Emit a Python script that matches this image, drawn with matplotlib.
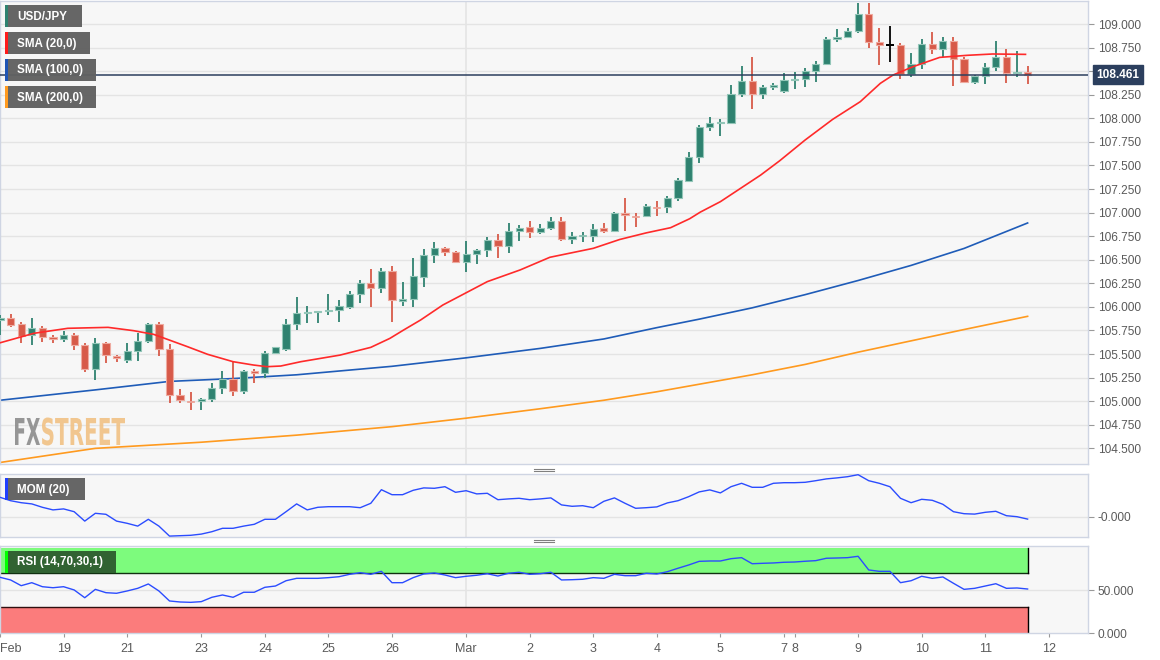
import numpy as np
import matplotlib
matplotlib.use("Agg")
import matplotlib.pyplot as plt
from matplotlib.patches import Rectangle, PathPatch
from matplotlib.lines import Line2D
from matplotlib.textpath import TextPath
from matplotlib.font_manager import FontProperties
from matplotlib.transforms import Affine2D

plt.rcParams['font.family'] = ['Liberation Sans', 'DejaVu Sans']

# ---------------- data (4H USD/JPY candles) ----------------
opens = [105.86, 105.88, 105.82, 105.70, 105.78, 105.68, 105.66, 105.70, 105.60, 105.34,
         105.62, 105.48, 105.44, 105.53, 105.64, 105.815, 105.55, 105.07, 105.013, 105.006,
         105.02, 105.14, 105.24, 105.11, 105.325, 105.295, 105.51, 105.55, 105.82, 105.935,
         105.942, 105.953, 105.963, 106.00, 106.14, 106.25, 106.20, 106.385, 106.066, 106.08,
         106.32, 106.55, 106.62, 106.58, 106.48, 106.56, 106.60, 106.71, 106.65, 106.805,
         106.845, 106.795, 106.84, 106.915, 106.72, 106.752, 106.75, 106.833, 106.81, 106.999,
         106.975, 106.965, 107.07, 107.056, 107.158, 107.335, 107.593, 107.911, 107.946, 107.954,
         108.26, 108.399, 108.26, 108.335, 108.29, 108.402, 108.417, 108.502, 108.572, 108.841,
         108.866, 108.926, 109.103, 108.806, 108.777, 108.777, 108.470, 108.576, 108.788, 108.731,
         108.820, 108.625, 108.388, 108.449, 108.541, 108.654, 108.477, 108.494]
highs = [105.91, 105.93, 105.84, 105.88, 105.80, 105.70, 105.74, 105.72, 105.62, 105.67,
         105.63, 105.49, 105.62, 105.72, 105.83, 105.84, 105.61, 105.13, 105.10, 105.03,
         105.19, 105.32, 105.42, 105.33, 105.34, 105.53, 105.58, 105.87, 106.10, 106.01,
         105.956, 106.14, 106.07, 106.17, 106.28, 106.40, 106.41, 106.43, 106.26, 106.515,
         106.61, 106.69, 106.63, 106.59, 106.70, 106.61, 106.74, 106.77, 106.89, 106.87,
         106.915, 106.88, 106.95, 106.95, 106.79, 106.79, 106.88, 106.89, 107.01, 107.15,
         107.00, 107.09, 107.12, 107.176, 107.37, 107.646, 107.929, 108.01, 107.989, 108.353,
         108.555, 108.647, 108.35, 108.378, 108.477, 108.494, 108.53, 108.611, 108.866, 108.943,
         108.954, 109.226, 109.226, 108.954, 108.979, 108.802, 108.689, 108.837, 108.919, 108.859,
         108.859, 108.650, 108.459, 108.583, 108.820, 108.731, 108.714, 108.555]
lows = [105.70, 105.79, 105.62, 105.60, 105.63, 105.62, 105.63, 105.54, 105.31, 105.23,
        105.40, 105.42, 105.40, 105.43, 105.62, 105.48, 104.98, 104.98, 104.91, 104.91,
        104.995, 105.08, 105.055, 105.08, 105.19, 105.25, 105.50, 105.53, 105.76, 105.83,
        105.83, 105.91, 105.84, 105.98, 106.04, 106.00, 106.15, 105.84, 106.01, 106.00,
        106.21, 106.47, 106.54, 106.47, 106.37, 106.46, 106.53, 106.515, 106.57, 106.70,
        106.73, 106.77, 106.82, 106.70, 106.67, 106.685, 106.69, 106.78, 106.80, 106.80,
        106.845, 106.95, 106.965, 107.00, 107.126, 107.328, 107.529, 107.869, 107.812, 107.946,
        108.229, 108.095, 108.20, 108.30, 108.272, 108.307, 108.328, 108.388, 108.565, 108.813,
        108.859, 108.901, 108.742, 108.565, 108.601, 108.413, 108.434, 108.519, 108.682, 108.647,
        108.343, 108.377, 108.364, 108.364, 108.505, 108.378, 108.441, 108.364]
closes = [105.88, 105.81, 105.69, 105.78, 105.68, 105.66, 105.70, 105.60, 105.34, 105.62,
          105.49, 105.46, 105.53, 105.64, 105.82, 105.55, 105.07, 105.01, 105.006, 105.023,
          105.14, 105.24, 105.11, 105.32, 105.295, 105.51, 105.57, 105.82, 105.94, 105.95,
          105.956, 105.967, 106.01, 106.14, 106.25, 106.20, 106.385, 106.07, 106.08, 106.325,
          106.55, 106.62, 106.58, 106.48, 106.56, 106.60, 106.71, 106.65, 106.805, 106.84,
          106.795, 106.84, 106.915, 106.72, 106.75, 106.763, 106.83, 106.81, 106.995, 106.975,
          106.964, 107.07, 107.058, 107.158, 107.345, 107.593, 107.911, 107.946, 107.964, 108.26,
          108.399, 108.26, 108.335, 108.349, 108.406, 108.416, 108.502, 108.572, 108.841, 108.866,
          108.926, 109.103, 108.806, 108.777, 108.777, 108.470, 108.576, 108.784, 108.731, 108.820,
          108.625, 108.388, 108.449, 108.541, 108.654, 108.477, 108.494, 108.461]

# SMA readings (candle index position, value)
sma20_idx = [-0.94, 2.2, 5.4, 9.2, 11.6, 13.5, 14.8, 16.7, 18.6, 21.0, 22.9, 24.2, 25.5,
             27.4, 28.3, 31.1, 34.0, 35.8, 37.1, 38.7, 40.8, 45.0, 48.1, 50.9, 55.0, 57.5,
             60.0, 62.3, 64.1, 65.1, 67.0, 68.9, 70.8, 72.6, 75.0, 77.6, 80.2, 82.1, 83.3,
             85.2, 87.7, 90.3, 92.7, 95.8]
sma20_val = [105.621, 105.720, 105.773, 105.783, 105.748, 105.709, 105.656, 105.578, 105.497,
             105.419, 105.384, 105.366, 105.373, 105.419, 105.436, 105.489, 105.571, 105.666,
             105.755, 105.861, 106.020, 106.268, 106.392, 106.526, 106.621, 106.715, 106.785,
             106.840, 106.935, 107.005, 107.116, 107.257, 107.398, 107.550, 107.770, 107.989,
             108.176, 108.371, 108.459, 108.548, 108.646, 108.668, 108.682, 108.678]
sma100_idx = [-1, 8, 15, 21, 27, 36, 43, 50, 56, 61, 65, 70, 75, 80, 85, 90, 96]
sma100_val = [105.01, 105.12, 105.21, 105.24, 105.28, 105.37, 105.46, 105.56, 105.66, 105.78,
              105.87, 105.99, 106.13, 106.28, 106.44, 106.62, 106.89]
sma200_idx = [-1, 8, 18, 27, 36, 43, 50, 56, 61, 65, 70, 75, 80, 85, 90, 96]
sma200_val = [104.35, 104.50, 104.565, 104.64, 104.73, 104.82, 104.92, 105.01, 105.10, 105.18,
              105.28, 105.39, 105.52, 105.64, 105.76, 105.90]

mom = [0.97, 0.80, 0.70, 0.64, 0.47, 0.34, 0.39, 0.25, -0.22, 0.17,
       0.12, -0.22, -0.33, -0.47, -0.13, -0.47, -0.97, -0.95, -0.93, -0.87,
       -0.75, -0.58, -0.58, -0.47, -0.38, -0.13, -0.13, 0.25, 0.64, 0.34,
       0.47, 0.50, 0.50, 0.50, 0.45, 0.67, 1.35, 1.10, 1.10, 1.32,
       1.44, 1.42, 1.50, 1.22, 1.30, 1.14, 1.17, 0.85, 0.89, 0.92,
       0.85, 0.89, 0.94, 0.59, 0.52, 0.55, 0.45, 0.77, 0.94, 0.67,
       0.42, 0.45, 0.49, 0.69, 0.80, 1.00, 1.24, 1.34, 1.19, 1.50,
       1.67, 1.47, 1.47, 1.67, 1.70, 1.70, 1.72, 1.80, 1.89, 1.94,
       2.00, 2.10, 1.80, 1.67, 1.50, 0.92, 0.70, 0.87, 0.82, 0.62,
       0.25, 0.15, 0.13, 0.22, 0.27, 0.05, 0.00, -0.12]
rsi = [65.2, 62.1, 55.4, 58.9, 54.2, 53.0, 54.2, 50.4, 41.3, 51.1,
       47.2, 46.5, 49.2, 52.3, 57.4, 49.2, 37.5, 36.3, 35.9, 36.7,
       41.8, 44.5, 41.8, 47.7, 47.7, 53.5, 55.0, 61.2, 64.0, 64.0,
       64.0, 64.8, 65.9, 68.7, 70.6, 68.7, 72.2, 58.9, 58.9, 64.8,
       69.1, 70.3, 67.9, 64.8, 66.4, 67.6, 69.4, 66.7, 69.9, 71.1,
       68.7, 69.4, 71.1, 62.1, 62.4, 62.9, 64.8, 64.0, 68.7, 67.1,
       67.1, 69.9, 69.1, 71.8, 75.8, 79.6, 83.9, 84.3, 84.3, 87.0,
       88.2, 81.1, 81.6, 82.0, 82.8, 83.1, 84.0, 84.7, 87.5, 87.8,
       88.2, 89.8, 73.8, 72.2, 72.2, 58.9, 61.2, 66.4, 64.0, 65.6,
       58.2, 51.1, 52.3, 55.0, 57.7, 52.3, 52.7, 51.5]

last_price = 108.461
xtick_pos = [-1, 5, 11, 18, 24, 30, 36, 43, 49, 55, 61, 67, 73, 74, 80, 86, 92, 98]
xtick_lab = ['Feb', '19', '21', '23', '24', '25', '26', 'Mar', '2', '3', '4', '5',
             '7', '8', '9', '10', '11', '12']
price_ticks = [104.5, 104.75, 105.0, 105.25, 105.5, 105.75, 106.0, 106.25, 106.5,
               106.75, 107.0, 107.25, 107.5, 107.75, 108.0, 108.25, 108.5, 108.75, 109.0]

# ---------------- figure ----------------
W, H = 1160, 660
fig = plt.figure(figsize=(W / 100, H / 100), dpi=100)
fig.patch.set_facecolor('white')

def rect(x0, y0, x1, y1):
    return [x0 / W, 1 - y1 / H, (x1 - x0) / W, (y1 - y0) / H]

ax = fig.add_axes(rect(0, 1, 1088, 464))
axm = fig.add_axes(rect(0, 473.7, 1088, 537), sharex=ax)
axr = fig.add_axes(rect(0, 546.3, 1088, 633), sharex=ax)

GREEN = '#2f8270'
RED = '#d75a49'
GREEN_E = '#93c6b8'
RED_E = '#eeaa9f'
GRID = '#e4e4e4'
SPINE = '#cfd5e3'
TXT = '#5a5a5a'

xs = np.arange(-1, -1 + len(closes))
xmin, xmax = -0.943, 101.7

for a in (ax, axm, axr):
    a.set_facecolor('#f7f7f7')
    for s in a.spines.values():
        s.set_color(SPINE)
        s.set_linewidth(1)
    a.yaxis.tick_right()
    a.tick_params(axis='y', colors='#999999', labelcolor=TXT, labelsize=8.6,
                  length=4, width=0.8, pad=3)
    a.axvline(43, color=GRID, lw=1.2, zorder=0)
    a.set_xlim(xmin, xmax)

# main candles
for x, o, h, l, c in zip(xs, opens, highs, lows, closes):
    if c > o:
        col, ec = GREEN, GREEN_E
    elif c < o:
        col, ec = RED, RED_E
    else:
        col, ec = 'black', 'black'
    ax.vlines(x, l, h, color=col, lw=1.3, zorder=3)
    hgt = c - o
    if abs(hgt) < 0.012:
        mid = (o + c) / 2
        ax.bar(x, 0.012 if hgt >= 0 else -0.012, bottom=mid - 0.006,
               width=0.68 if col != 'black' else 0.75,
               color=col, edgecolor=ec, linewidth=0.6 if col != 'black' else 0.0, zorder=4)
    else:
        ax.bar(x, hgt, bottom=o, width=0.68, color=col, edgecolor=ec,
               linewidth=0.8, zorder=4)

ax.plot(sma20_idx, sma20_val, color='#ff2a2a', lw=1.2, zorder=5, solid_joinstyle='round')
ax.plot(sma100_idx, sma100_val, color='#1f5cb8', lw=1.2, zorder=2, solid_joinstyle='round')
ax.plot(sma200_idx, sma200_val, color='#ff9a1f', lw=1.2, zorder=2, solid_joinstyle='round')

ax.set_ylim(104.334, 109.244)
ax.set_yticks(price_ticks)
ax.set_yticklabels([f"{v:.3f}" for v in price_ticks])
ax.grid(axis='y', color=GRID, lw=1)
ax.set_axisbelow(True)
ax.tick_params(axis='x', bottom=False, labelbottom=False)

ax.axhline(last_price, color='#2c3f5e', lw=1.1, zorder=6)
ax.annotate(f"{last_price:.3f}", xy=(1.0, last_price), xycoords=('axes fraction', 'data'),
            xytext=(6, 0), textcoords='offset points', ha='left', va='center',
            color='white', fontsize=8.6, fontweight='bold', zorder=20, annotation_clip=False,
            bbox=dict(boxstyle='square,pad=0.3', fc='#2c3f5e', ec='#2c3f5e'))

# watermark (condensed lettering scaled into its box, pixel coords)
def wm_text(txt, x0, x1, ybase, cap, color, alpha):
    fp = FontProperties(family='DejaVu Sans', weight='bold')
    tp = TextPath((0, 0), txt, size=100, prop=fp)
    ext = tp.get_extents()
    sx = (x1 - x0) / ext.width
    sy = cap / 72.9
    tr = Affine2D().translate(-ext.x0, 0).scale(sx, sy).translate(x0, H - ybase)
    path = tr.transform_path(tp)
    patch = PathPatch(path, facecolor=color, edgecolor='none', alpha=alpha,
                      transform=None, zorder=1)
    fig.patches.append(patch)

wm_text('FX', 15, 40, 445, 27, '#8c8c8c', 0.9)
wm_text('STREET', 42, 125, 445, 27, '#f1c184', 0.9)

# MOM panel
axm.plot(xs, mom, color='#2b4cff', lw=1.0, zorder=3)
axm.set_ylim(-1.015, 2.15)
axm.set_yticks([0])
axm.set_yticklabels(['-0.000'])
axm.grid(axis='y', color=GRID, lw=1)
axm.set_axisbelow(True)
axm.tick_params(axis='x', bottom=False, labelbottom=False)

# RSI panel
axr.add_patch(Rectangle((xmin, 70), 96 - xmin, 30, facecolor='#7dfb7d', edgecolor='none', zorder=1))
axr.add_patch(Rectangle((xmin, 0), 96 - xmin, 30, facecolor='#fb7c7c', edgecolor='none', zorder=1))
axr.plot([xmin, 96], [70, 70], color='#103010', lw=1.0, zorder=2)
axr.plot([xmin, 96], [30, 30], color='#301010', lw=1.0, zorder=2)
axr.plot([96, 96], [70, 100], color='black', lw=1.0, zorder=2)
axr.plot([96, 96], [0, 30], color='black', lw=1.0, zorder=2)
axr.plot(xs, rsi, color='#2b4cff', lw=1.0, zorder=3)
axr.set_ylim(0, 101.5)
axr.set_yticks([0, 50])
axr.set_yticklabels(['0.000', '50.000'])
axr.axhline(50, color=GRID, lw=1, zorder=0.5)
axr.set_xticks(xtick_pos)
axr.set_xticklabels(xtick_lab)
axr.tick_params(axis='x', colors='#999999', labelcolor=TXT, labelsize=9, length=3, pad=4)
axr.get_xticklabels()[0].set_ha('left')

# legend boxes
def label_box(x0, y0, x1, y1, text, strip, fc='#616161'):
    fig.patches.append(Rectangle((x0 / W, 1 - y1 / H), (x1 - x0) / W, (y1 - y0) / H,
                                 transform=fig.transFigure, facecolor=fc, edgecolor='none',
                                 zorder=10, alpha=0.97))
    fig.patches.append(Rectangle((x0 / W, 1 - y1 / H), 3 / W, (y1 - y0) / H,
                                 transform=fig.transFigure, facecolor=strip, edgecolor='none',
                                 zorder=11))
    fig.text((x0 + 12) / W, 1 - ((y0 + y1) / 2 + 0.5) / H, text, color='white', fontsize=8.4,
             fontweight='bold', ha='left', va='center', zorder=12)

label_box(5, 5, 82, 27, 'USD/JPY', '#2f8270')
label_box(5, 32, 90, 54, 'SMA (20,0)', '#ff1a1a')
label_box(5, 59, 96, 81, 'SMA (100,0)', '#1f55b5')
label_box(5, 86, 96, 108, 'SMA (200,0)', '#ff9a1f')
label_box(5, 478, 85, 500, 'MOM (20)', '#1f3fff')
label_box(5, 551, 116, 573, 'RSI (14,70,30,1)', '#00ff00', fc='#2f5e30')

# panel grips
for yy in (468.8, 470.8, 540.3, 542.3):
    fig.add_artist(Line2D([534 / W, 554 / W], [1 - yy / H, 1 - yy / H], color='#808080',
                          lw=0.8, transform=fig.transFigure))

fig.savefig('out.png', dpi=100, facecolor='white')
